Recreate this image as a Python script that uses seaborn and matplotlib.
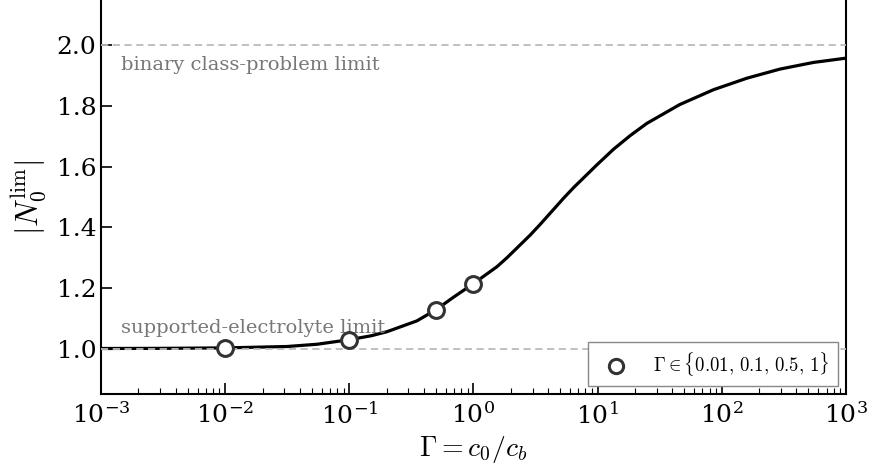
import numpy as np
import pandas as pd
import seaborn as sns
import matplotlib.pyplot as plt
from matplotlib.font_manager import FontProperties
from matplotlib.ticker import LogLocator, NullFormatter

# curve
gamma = [1e-3, 3e-3, 0.01, 0.0316, 0.055, 0.1, 0.15, 0.2, 0.35, 0.5, 0.69, 1.0, 1.55, 1.87,
         2.88, 3.46, 5.33, 6.42, 10.0, 13.5, 18.4, 25.0, 46.0, 86.0, 160.0, 295.0,
         550.0, 1000.0]
n_lim = [1.000, 1.0005, 1.002, 1.0066, 1.014, 1.029, 1.042, 1.055, 1.091, 1.128, 1.169, 1.214,
         1.270, 1.300, 1.375, 1.410, 1.496, 1.531, 1.608, 1.658, 1.703, 1.743, 1.805,
         1.854, 1.892, 1.922, 1.944, 1.958]

# marked points
gamma_pts = [0.01, 0.1, 0.5, 1.0]
n_pts = [1.002, 1.029, 1.128, 1.214]

limits = [1.0, 2.0]
limit_labels = ["supported-electrolyte limit", "binary class-problem limit"]

curve = pd.DataFrame({"gamma": gamma, "n": n_lim})
pts = pd.DataFrame({"gamma": gamma_pts, "n": n_pts})

sns.set_style("ticks")
plt.rcParams['font.family'] = ['DejaVu Serif', 'DejaVu Sans']
plt.rcParams['mathtext.fontset'] = 'dejavuserif'
plt.rcParams['text.color'] = 'black'
plt.rcParams['axes.labelcolor'] = 'black'
plt.rcParams['xtick.color'] = 'black'
plt.rcParams['ytick.color'] = 'black'
plt.rcParams['axes.edgecolor'] = 'black'

fig = plt.figure(figsize=(8.71, 4.69), dpi=100)
ax = fig.add_axes([0.116, 0.16, 0.855, 0.84])

sns.lineplot(data=curve, x="gamma", y="n", color="black", lw=2.3, ax=ax, zorder=2,
             solid_joinstyle="round", solid_capstyle="round")
for yv in limits:
    ax.axhline(yv, color="#bbbbbb", ls=(0, (4, 2.5)), lw=1.3, zorder=3)
sns.scatterplot(data=pts, x="gamma", y="n", marker="o", s=130, facecolor="white",
                edgecolor="#333333", linewidth=2.2, zorder=4, ax=ax,
                label=r"$\Gamma \in \{0.01,\, 0.1,\, 0.5,\, 1\}$")

ax.text(1.45e-3, 1.937, limit_labels[1], color="#777777", fontsize=14, va="center")
ax.text(1.45e-3, 1.068, limit_labels[0], color="#777777", fontsize=14, va="center")

ax.set_xscale("log")
ax.set_xlim(1e-3, 1e3)
ax.set_ylim(0.85, 2.15)
ax.set_yticks([1.0, 1.2, 1.4, 1.6, 1.8, 2.0])
ax.xaxis.set_minor_locator(LogLocator(base=10, subs=np.arange(2, 10), numticks=20))
ax.xaxis.set_minor_formatter(NullFormatter())
ax.tick_params(which="major", direction="in", length=8, width=1.2, labelsize=18)
ax.tick_params(which="minor", direction="in", length=4, width=0.8)
ax.tick_params(axis="x", pad=6)

ax.set_xlabel(r"$\Gamma = c_0/c_b$", fontsize=20, math_fontfamily="cm", labelpad=4)
ax.set_ylabel(r"$|N_0^{\mathrm{lim}}|$", fontsize=22, math_fontfamily="cm", labelpad=6)

for s in ax.spines.values():
    s.set_linewidth(1.5)
ax.spines["top"].set_visible(False)

leg = ax.legend(loc="lower right", prop=FontProperties(size=13.5, math_fontfamily="cm"),
                fancybox=False, framealpha=1, edgecolor="#888888",
                borderaxespad=0.4, markerscale=0.9, handletextpad=1.0,
                borderpad=0.45)
leg.get_frame().set_linewidth(1.0)

fig.savefig("out.png", dpi=100)
